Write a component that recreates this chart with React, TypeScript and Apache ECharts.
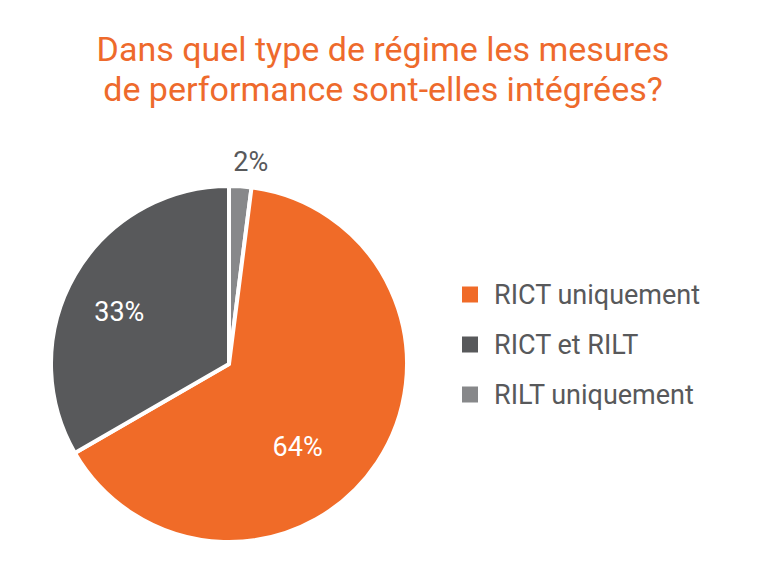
import React, { useEffect, useRef } from "react";
import * as echarts from "echarts";

const categories = ["RILT uniquement", "RICT uniquement", "RICT et RILT"];
const values = [2, 64, 33];
const colors = ["#87888A", "#F06B28", "#58595B"];
const legendOrder = ["RICT uniquement", "RICT et RILT", "RILT uniquement"];
const titleLines = ["Dans quel type de régime les mesures", "de performance sont-elles intégrées?"];

export default function App() {
  const ref = useRef<HTMLDivElement>(null);
  useEffect(() => {
    document.body.style.margin = "0";
    const chart = echarts.init(ref.current!, null, { renderer: "svg" });
    const offsets = [[16, -110], [-8, 32], [-30, -6]];
    const labelColors = ["#58595B", "#ffffff", "#ffffff"];
    chart.setOption({
      animation: false,
      backgroundColor: "#ffffff",
      title: {
        text: titleLines.join("\n"),
        left: 378,
        textAlign: "center",
        top: 24,
        textStyle: {
          color: "#EE6A2C",
          fontFamily: "Roboto",
          fontWeight: "normal",
          fontSize: 34,
          lineHeight: 40,
        },
      },
      legend: {
        data: legendOrder,
        orient: "vertical",
        left: 455,
        top: 276,
        itemWidth: 18,
        itemHeight: 18,
        itemGap: 23,
        icon: "rect",
        textStyle: { color: "#58595B", fontFamily: "Roboto", fontSize: 27, padding: [0, 0, 0, 10] },
      },
      series: [
        {
          type: "pie",
          center: [229, 364],
          radius: 178,
          startAngle: 90,
          clockwise: true,
          itemStyle: { borderColor: "#ffffff", borderWidth: 4 },
          labelLine: { show: false },
          data: categories.map((name, i) => ({
            name,
            value: values[i],
            itemStyle: { color: colors[i] },
            label: {
              show: true,
              position: "inside",
              formatter: "{c}%",
              offset: offsets[i],
              color: labelColors[i],
              fontFamily: "Roboto",
              fontSize: 27,
            },
          })),
        },
      ],
    });
    return () => chart.dispose();
  }, []);
  return <div ref={ref} style={{ width: 768, height: 567 }} />;
}
